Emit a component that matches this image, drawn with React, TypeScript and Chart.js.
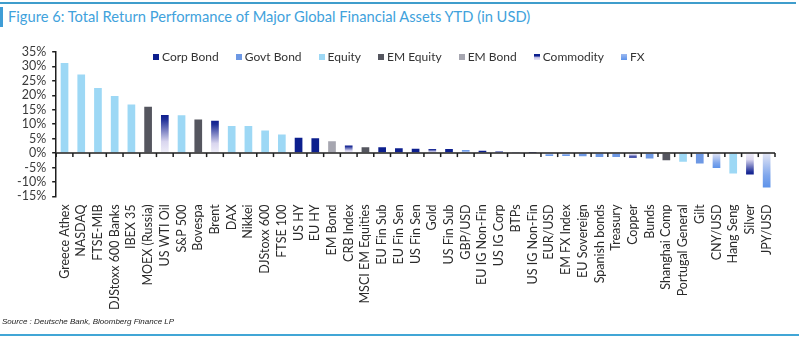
import React, { useEffect, useRef } from 'react';
import { Chart, registerables } from 'chart.js';

Chart.register(...registerables);

const categories = [
  'Greece Athex', 'NASDAQ', 'FTSE-MIB', 'DJStoxx 600 Banks', 'IBEX 35', 'MOEX (Russia)',
  'US WTI Oil', 'S&P 500', 'Bovespa', 'Brent', 'DAX', 'Nikkei', 'DJStoxx 600', 'FTSE 100',
  'US HY', 'EU HY', 'EM Bond', 'CRB Index', 'MSCI EM Equities', 'EU Fin Sub', 'EU Fin Sen',
  'US Fin Sen', 'Gold', 'US Fin Sub', 'GBP/USD', 'EU IG Non-Fin', 'US IG Corp', 'BTPs',
  'US IG Non-Fin', 'EUR/USD', 'EM FX Index', 'EU Sovereign', 'Spanish bonds', 'Treasury',
  'Copper', 'Bunds', 'Shanghai Comp', 'Portugal General', 'Gilt', 'CNY/USD', 'Hang Seng',
  'Silver', 'JPY/USD',
];

const values = [
  31.2, 27.2, 22.5, 19.8, 16.8, 16.0,
  13.2, 13.1, 11.6, 11.2, 9.4, 9.4, 7.8, 6.4,
  5.3, 5.1, 4.1, 2.6, 2.0, 2.0, 1.7,
  1.5, 1.4, 1.4, 1.1, 0.8, 0.5, 0.4,
  0.1, -1.0, -1.0, -1.1, -1.4, -1.4,
  -1.6, -1.9, -2.5, -3.0, -3.6, -5.2, -7.1,
  -7.4, -11.9,
];

const assetTypes = [
  'Equity', 'Equity', 'Equity', 'Equity', 'Equity', 'EM Equity',
  'Commodity', 'Equity', 'EM Equity', 'Commodity', 'Equity', 'Equity', 'Equity', 'Equity',
  'Corp Bond', 'Corp Bond', 'EM Bond', 'Commodity', 'EM Equity', 'Corp Bond', 'Corp Bond',
  'Corp Bond', 'Commodity', 'Corp Bond', 'FX', 'Corp Bond', 'Corp Bond', 'Govt Bond',
  'Corp Bond', 'FX', 'FX', 'Govt Bond', 'Govt Bond', 'Govt Bond',
  'Commodity', 'Govt Bond', 'EM Equity', 'Equity', 'Govt Bond', 'FX', 'Equity',
  'Commodity', 'FX',
];

const seriesNames = ['Corp Bond', 'Govt Bond', 'Equity', 'EM Equity', 'EM Bond', 'Commodity', 'FX'];

const seriesColors: Record<string, string> = {
  'Corp Bond': '#0c1f8e',
  'Govt Bond': '#6d98e4',
  'Equity': '#9dd8f5',
  'EM Equity': '#55565f',
  'EM Bond': '#a6a6b0',
  'Commodity': '#3a4aa4',
  'FX': '#8fb3ee',
};

const legendSwatch: Record<string, string> = {
  'Corp Bond': '#0c1f8e',
  'Govt Bond': '#6d98e4',
  'Equity': '#9dd8f5',
  'EM Equity': '#55565f',
  'EM Bond': '#a6a6b0',
  'Commodity': 'linear-gradient(#0c1f8e 0%, #0c1f8e 30%, #c9c6e8 60%, #e8e6f5 100%)',
  'FX': 'linear-gradient(#9cb9f0 0%, #5d93ea 100%)',
};

const yMin = -15;
const yMax = 35;
const yStep = 5;

const FONT = "Lato, 'Open Sans', sans-serif";

function barFill(ctx: any, name: string) {
  const solid = seriesColors[name];
  if (name !== 'Commodity' && name !== 'FX') return solid;
  const chart = ctx.chart;
  const ys = chart && chart.scales ? chart.scales.y : null;
  const v = ctx.raw;
  if (!ys || v == null || !chart.chartArea) return solid;
  const p0 = ys.getPixelForValue(0);
  const p1 = ys.getPixelForValue(v);
  if (!isFinite(p0) || !isFinite(p1) || p0 === p1) return solid;
  const g = chart.ctx.createLinearGradient(0, p1, 0, p0);
  if (name === 'Commodity') {
    g.addColorStop(0, '#0f1e8e');
    g.addColorStop(0.12, '#1f2f98');
    g.addColorStop(0.7, '#d9d6ef');
    g.addColorStop(1, '#efeef8');
  } else {
    g.addColorStop(0, '#5d93ea');
    g.addColorStop(0.35, '#80a7ec');
    g.addColorStop(1, '#e4e6f5');
  }
  return g;
}

const zeroAxisPlugin = {
  id: 'zeroAxis',
  afterDatasetsDraw(chart: any) {
    const { ctx, chartArea, scales } = chart;
    const xs = scales.x;
    const ys = scales.y;
    const y0 = ys.getPixelForValue(0);
    ctx.save();
    ctx.strokeStyle = '#1e1e1e';
    ctx.lineWidth = 1.5;
    ctx.beginPath();
    ctx.moveTo(chartArea.left, y0);
    ctx.lineTo(chartArea.right, y0);
    ctx.stroke();
    const n = categories.length;
    for (let i = 0; i <= n; i++) {
      let x: number;
      if (i === 0) x = chartArea.left;
      else if (i === n) x = chartArea.right;
      else x = (xs.getPixelForValue(i - 1) + xs.getPixelForValue(i)) / 2;
      ctx.beginPath();
      ctx.moveTo(x, y0);
      ctx.lineTo(x, y0 + 4);
      ctx.stroke();
    }
    ctx.restore();
  },
};

export default function App() {
  const canvasRef = useRef<HTMLCanvasElement>(null);

  useEffect(() => {
    document.body.style.margin = '0';
    const canvas = canvasRef.current;
    if (!canvas) return;
    const datasets = seriesNames.map((name) => ({
      label: name,
      data: values.map((v, i) => (assetTypes[i] === name ? v : null)),
      backgroundColor: (ctx: any) => barFill(ctx, name),
      borderWidth: 0,
      categoryPercentage: 1,
      barPercentage: 0.46,
    }));
    const chart = new Chart(canvas, {
      type: 'bar',
      data: { labels: categories, datasets },
      plugins: [zeroAxisPlugin],
      options: {
        animation: false,
        responsive: false,
        maintainAspectRatio: false,
        layout: { padding: { left: 11, right: 24, top: 22, bottom: 4 } },
        plugins: {
          legend: { display: false },
          tooltip: { enabled: false },
          title: { display: false },
        },
        scales: {
          x: {
            stacked: true,
            grid: { display: false, drawTicks: false },
            border: { display: false },
            ticks: {
              autoSkip: false,
              maxRotation: 90,
              minRotation: 90,
              padding: 8,
              color: '#2a2a2a',
              font: { family: FONT, size: 12.5 },
            },
          },
          y: {
            stacked: true,
            min: yMin,
            max: yMax,
            ticks: {
              stepSize: yStep,
              autoSkip: false,
              padding: 6,
              color: '#3a3a3a',
              font: { family: FONT, size: 12.5 },
              callback: (v: any) => `${v}%`,
            },
            grid: {
              drawOnChartArea: false,
              drawTicks: true,
              tickLength: 4,
              color: '#1e1e1e',
              lineWidth: 1.5,
            },
            border: { display: true, color: '#1e1e1e', width: 1.5 },
          },
        },
      },
    });
    return () => chart.destroy();
  }, []);

  return (
    <div style={{ position: 'relative', width: 799, height: 343, background: '#fff', overflow: 'hidden' }}>
      <div style={{ position: 'absolute', left: 0, top: 2, width: 796, height: 2, background: '#3f9dcc' }} />
      <div style={{ position: 'absolute', left: 0, top: 7, width: 3, height: 20, background: '#3f9dd6' }} />
      <div
        style={{
          position: 'absolute', left: 8, top: 7, fontFamily: FONT, fontSize: 14.7,
          color: '#41a2dc', whiteSpace: 'nowrap', lineHeight: '18px',
        }}
      >
        Figure 6: Total Return Performance of Major Global Financial Assets YTD (in USD)
      </div>
      <canvas
        ref={canvasRef}
        width={799}
        height={292}
        style={{ position: 'absolute', left: 0, top: 30, width: 799, height: 292 }}
      />
      <div
        style={{
          position: 'absolute', left: 153, top: 49, display: 'flex', alignItems: 'center',
          fontFamily: FONT, fontSize: 12, color: '#333', whiteSpace: 'nowrap', lineHeight: '16px',
        }}
      >
        {seriesNames.map((name) => (
          <div key={name} style={{ display: 'flex', alignItems: 'center', marginRight: 17 }}>
            <span style={{ display: 'inline-block', width: 6, height: 6, background: legendSwatch[name], marginRight: 3 }} />
            <span>{name}</span>
          </div>
        ))}
      </div>
      <div
        style={{
          position: 'absolute', left: 2, top: 317, fontFamily: "Arial, 'Liberation Sans', sans-serif",
          fontSize: 8, fontStyle: 'italic', color: '#222', whiteSpace: 'nowrap',
        }}
      >
        Source : Deutsche Bank, Bloomberg Finance LP
      </div>
      <div style={{ position: 'absolute', left: 0, top: 334, width: 799, height: 2, background: '#41a6d6' }} />
    </div>
  );
}
